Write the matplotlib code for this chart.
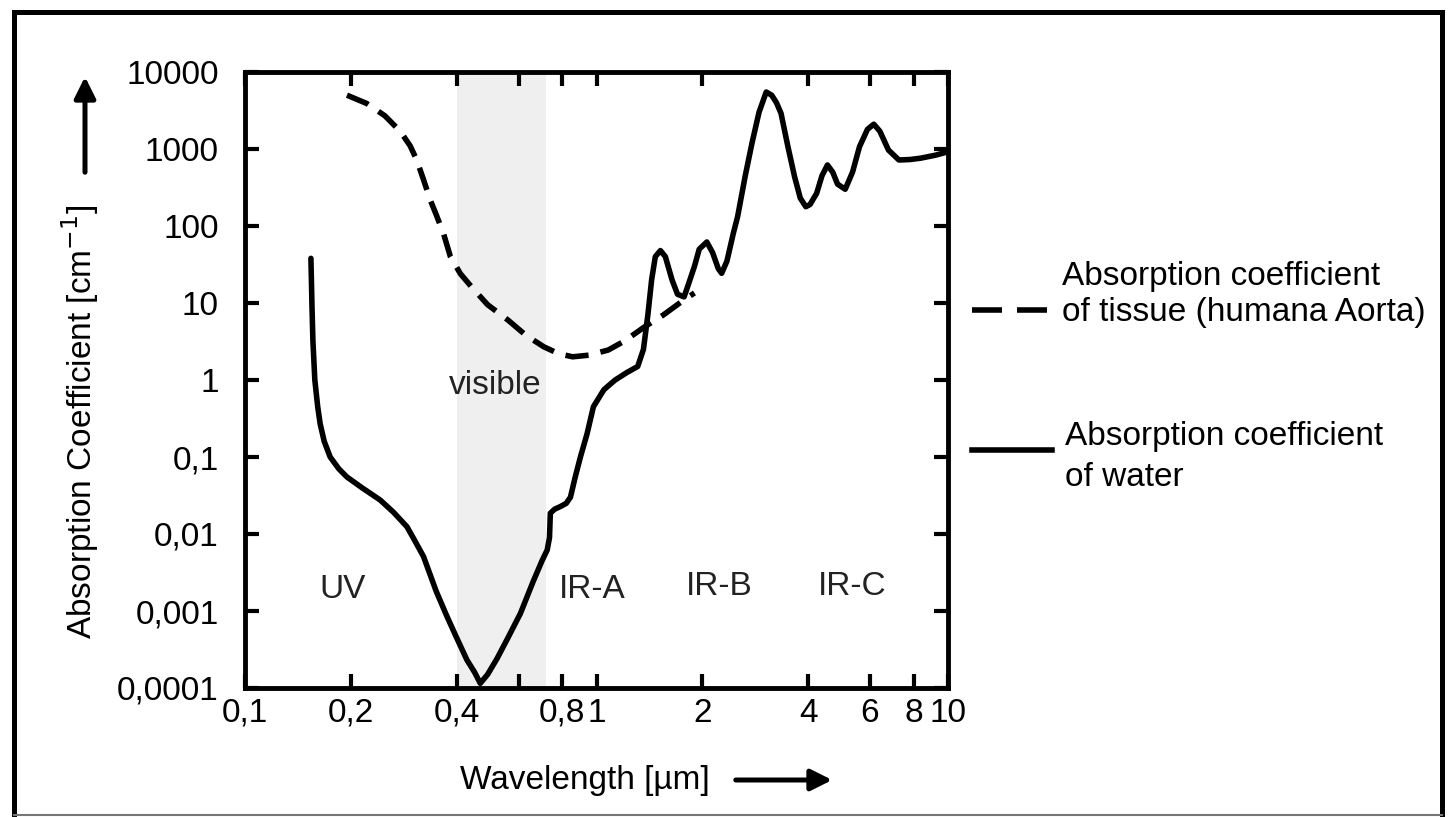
import matplotlib
matplotlib.use("Agg")
import matplotlib.pyplot as plt
from matplotlib.lines import Line2D
from matplotlib.ticker import NullLocator, FixedLocator, FixedFormatter

plt.rcParams['font.family'] = ['Liberation Sans', 'DejaVu Sans']
plt.rcParams['font.size'] = 24

# ---- data ----
water_x = [0.154, 0.1545, 0.155, 0.156, 0.158, 0.161, 0.1636, 0.168, 0.1747, 0.185, 0.195,
           0.215, 0.2425, 0.265, 0.289, 0.305, 0.322, 0.35, 0.3755, 0.40, 0.428, 0.45, 0.467,
           0.49, 0.521, 0.56, 0.6075, 0.66, 0.70, 0.724, 0.735, 0.739, 0.76, 0.789, 0.82,
           0.843, 0.87, 0.90, 0.94, 0.98, 1.05, 1.13, 1.22, 1.31, 1.36, 1.40, 1.435, 1.47,
           1.52, 1.57, 1.64, 1.70, 1.775, 1.83, 1.90, 1.96, 2.06, 2.14, 2.22, 2.27, 2.35,
           2.45, 2.52, 2.65, 2.77, 2.90, 3.04, 3.15, 3.25, 3.35, 3.5, 3.66, 3.8, 3.94, 4.05,
           4.23, 4.38, 4.54, 4.7, 4.85, 5.1, 5.35, 5.6, 5.9, 6.15, 6.4, 6.77, 7.25, 7.8,
           8.36, 9.2, 10.0]
water_y = [38, 20, 10, 3.3, 1.0, 0.45, 0.27, 0.16, 0.1, 0.07, 0.055,
           0.04, 0.0276, 0.019, 0.0124, 0.008, 0.0051, 0.0018, 0.00085, 0.00045, 0.000231,
           0.00016, 0.000115,
           0.00015, 0.00024, 0.00045, 0.00093, 0.0024, 0.0045, 0.0062, 0.009, 0.0186, 0.021,
           0.0227, 0.025,
           0.03, 0.055, 0.1, 0.2, 0.45, 0.75, 1.0, 1.25, 1.5, 2.5, 7, 20, 40,
           48, 40, 20, 13, 12, 18, 30, 50, 62, 45, 28, 24.3, 35,
           80, 132, 450, 1200, 3000, 5500, 5000, 4000, 2900, 1100, 437, 230, 178, 190,
           266, 450, 620, 500, 350, 300, 500, 1070, 1800, 2100, 1700, 970, 720, 730,
           760, 830, 920]

tissue_x = [0.195, 0.222, 0.25, 0.2764, 0.295, 0.308, 0.322, 0.3365, 0.35, 0.367, 0.384,
            0.41, 0.442, 0.49, 0.56, 0.63, 0.708, 0.78, 0.855, 0.95, 1.08, 1.2, 1.37, 1.55,
            1.77, 1.9]
tissue_y = [5000, 3900, 2700, 1700, 1100, 720, 400, 218, 140, 80, 40,
            24, 16, 9.5, 6.0, 3.8, 2.7, 2.2, 2.0, 2.1, 2.45, 3.2, 4.9, 7,
            10.9, 13.5]

visible_band = (0.4, 0.72)

x_ticks = [0.1, 0.2, 0.4, 0.6, 0.8, 1, 2, 4, 6, 8, 10]
x_ticklabels = ['0,1', '0,2', '0,4', '', '0,8', '1', '2', '4', '6', '8', '10']
y_ticks = [1e-4, 1e-3, 1e-2, 1e-1, 1, 10, 100, 1000, 10000]
y_ticklabels = ['0,0001', '0,001', '0,01', '0,1', '1', '10', '100', '1000', '10000']

region_labels = ['UV', 'visible', 'IR-A', 'IR-B', 'IR-C']
region_x = [0.19, 0.515, 0.97, 2.23, 5.33]
region_y = [0.0019, 0.86, 0.0019, 0.0021, 0.0021]

legend_texts = [("Absorption coefficient", "of tissue (humana Aorta)"),
                ("Absorption coefficient", "of water")]

# ---- figure ----
W, H = 1449, 817
fig = plt.figure(figsize=(W / 100, H / 100), dpi=100)
fig.patch.set_facecolor('white')

def fx(px):
    return px / W

def fy(py):
    return 1 - py / H

ax = fig.add_axes([fx(245), fy(688), fx(948) - fx(245), fy(72) - fy(688)])
ax.set_xscale('log')
ax.set_yscale('log')
ax.set_xlim(0.1, 10)
ax.set_ylim(1e-4, 1e4)

ax.axvspan(visible_band[0], visible_band[1], facecolor='#efefef', edgecolor='none', zorder=0)

ax.plot(water_x, water_y, color='black', lw=4, solid_joinstyle='round',
        solid_capstyle='round', zorder=3)
ax.plot(tissue_x, tissue_y, color='black', lw=4, linestyle=(0, (4.2, 2.2)), zorder=3)

for t, x, y in zip(region_labels, region_x, region_y):
    ax.text(x, y, t, ha='center', va='center', fontsize=24, color='#222222', zorder=4)

ax.xaxis.set_major_locator(FixedLocator(x_ticks))
ax.xaxis.set_major_formatter(FixedFormatter(x_ticklabels))
ax.xaxis.set_minor_locator(NullLocator())
ax.yaxis.set_major_locator(FixedLocator(y_ticks))
ax.yaxis.set_major_formatter(FixedFormatter(y_ticklabels))
ax.yaxis.set_minor_locator(NullLocator())

ax.tick_params(which='major', direction='in', top=True, right=True,
               length=10, width=3, labelsize=24, color='black')
ax.tick_params(axis='x', pad=7)
ax.tick_params(axis='y', pad=19)
for s in ax.spines.values():
    s.set_linewidth(3.5)

# axis labels
fig.text(fx(80), fy(422), 'Absorption Coefficient [cm$^{-1}$]', rotation=90,
         ha='center', va='center', fontsize=24)
fig.text(fx(585), fy(780), 'Wavelength [\u00b5m]', ha='center', va='center', fontsize=24)

# arrows
fig.add_artist(matplotlib.patches.FancyArrowPatch(
    (fx(85), fy(175)), (fx(85), fy(74)), transform=fig.transFigure,
    arrowstyle='-|>', mutation_scale=32, lw=3.6, color='black'))
fig.add_artist(matplotlib.patches.FancyArrowPatch(
    (fx(733), fy(780)), (fx(835), fy(780)), transform=fig.transFigure,
    arrowstyle='-|>', mutation_scale=32, lw=3.6, color='black'))

# legend (manual)
fig.add_artist(Line2D([fx(972), fx(1047)], [fy(310), fy(310)], color='black', lw=4,
                      linestyle=(0, (5.4, 2.7)), transform=fig.transFigure))
fig.add_artist(Line2D([fx(972), fx(1052)], [fy(450), fy(450)], color='black', lw=4,
                      transform=fig.transFigure))
fig.text(fx(1062), fy(277), legend_texts[0][0], ha='left', va='center', fontsize=24)
fig.text(fx(1062), fy(313), legend_texts[0][1], ha='left', va='center', fontsize=24)
fig.text(fx(1065), fy(437), legend_texts[1][0], ha='left', va='center', fontsize=24)
fig.text(fx(1065), fy(477), legend_texts[1][1], ha='left', va='center', fontsize=24)

# outer border
fig.add_artist(Line2D([fx(13.5), fx(13.5)], [fy(11.5), fy(815)], color='black', lw=3.6,
                      transform=fig.transFigure))
fig.add_artist(Line2D([fx(13.5), fx(1441.5)], [fy(11.5), fy(11.5)], color='black', lw=3.6,
                      transform=fig.transFigure))
fig.add_artist(Line2D([fx(1441.5), fx(1441.5)], [fy(11.5), fy(815)], color='black', lw=3.6,
                      transform=fig.transFigure))
fig.add_artist(Line2D([fx(13.5), fx(1441.5)], [fy(815), fy(815)], color='#777777', lw=1.5,
                      transform=fig.transFigure))

fig.savefig('out.png', dpi=100, facecolor='white')
